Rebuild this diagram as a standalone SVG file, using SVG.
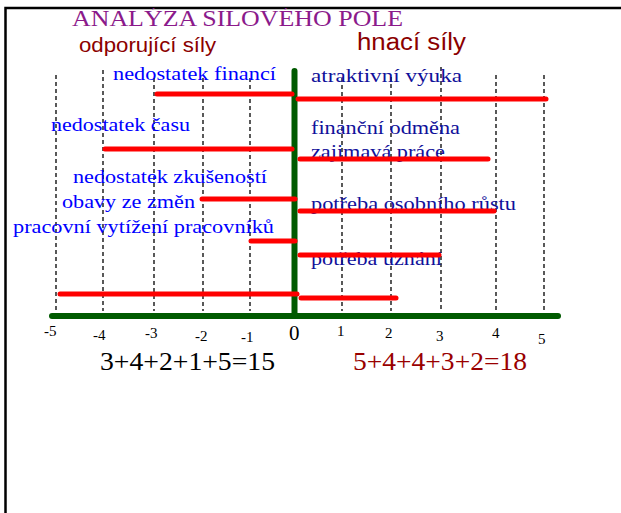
<svg xmlns="http://www.w3.org/2000/svg" width="621" height="513" viewBox="0 0 621 513">
<style>
.serif{font-family:"Liberation Serif","Times New Roman",serif}
.sans{font-family:"Liberation Sans",Arial,sans-serif}
.grid{stroke:#000;stroke-width:1.3;stroke-dasharray:4 3;fill:none}
.bar{stroke:#ff0000;stroke-width:5;stroke-linecap:round;fill:none}
.axis{stroke:#005a00;stroke-width:6;stroke-linecap:round;fill:none}
.lt{fill:#0000ff;font-size:19px}
.rt{fill:#10109a;font-size:19px}
.tick{fill:#000;font-size:15px}
</style>
<defs>
<clipPath id="clipTop"><rect x="0" y="8" width="621" height="505"/></clipPath>
</defs>
<rect x="0" y="0" width="621" height="513" fill="#fff"/>
<g id="frame">
<path d="M5.5 513 V8 H621" stroke="#000" stroke-width="2.5" fill="none"/>
</g>
<g id="title" clip-path="url(#clipTop)">
<text class="serif" x="72" y="26" font-size="24" fill="#8b1a8b" textLength="331" lengthAdjust="spacingAndGlyphs">ANALÝZA SILOVÉHO POLE</text>
</g>
<g id="headers">
<text class="sans" x="79" y="52" font-size="21" fill="#8b0000" textLength="137" lengthAdjust="spacingAndGlyphs">odporující síly</text>
<text class="sans" x="357" y="50" font-size="23" fill="#8b0000" textLength="109" lengthAdjust="spacingAndGlyphs">hnací síly</text>
</g>
<g id="grid">
<line class="grid" x1="56" y1="75" x2="56" y2="311"/>
<line class="grid" x1="103" y1="70" x2="103" y2="311"/>
<line class="grid" x1="154" y1="78" x2="154" y2="311"/>
<line class="grid" x1="203" y1="78" x2="203" y2="311"/>
<line class="grid" x1="250" y1="78" x2="250" y2="311"/>
<line class="grid" x1="342" y1="78" x2="342" y2="311"/>
<line class="grid" x1="391" y1="77" x2="391" y2="311"/>
<line class="grid" x1="441" y1="67" x2="441" y2="311"/>
<line class="grid" x1="496" y1="75" x2="496" y2="311"/>
<line class="grid" x1="544" y1="75" x2="544" y2="311"/>
</g>
<g id="axes">
<line class="axis" x1="294.5" y1="71" x2="294.5" y2="316"/>
<line class="axis" x1="52" y1="316" x2="558" y2="316"/>
</g>
<g id="restraining-forces">
<text class="serif lt" x="113" y="80" textLength="163" lengthAdjust="spacingAndGlyphs">nedostatek financí</text>
<text class="serif lt" x="51" y="131" textLength="139" lengthAdjust="spacingAndGlyphs">nedostatek času</text>
<text class="serif lt" x="73" y="183" textLength="194" lengthAdjust="spacingAndGlyphs">nedostatek zkušeností</text>
<text class="serif lt" x="62" y="208" textLength="133" lengthAdjust="spacingAndGlyphs">obavy ze změn</text>
<text class="serif lt" x="13" y="233" textLength="261" lengthAdjust="spacingAndGlyphs">pracovní vytížení pracovníků</text>
</g>
<g id="driving-forces">
<text class="serif rt" x="311" y="82" textLength="151" lengthAdjust="spacingAndGlyphs">atraktivní  výuka</text>
<text class="serif rt" x="311" y="134" textLength="149" lengthAdjust="spacingAndGlyphs">finanční odměna</text>
<text class="serif rt" x="311" y="158" textLength="134" lengthAdjust="spacingAndGlyphs">zajimavá práce</text>
<text class="serif rt" x="311" y="210" textLength="205" lengthAdjust="spacingAndGlyphs">potřeba osobního růstu</text>
<text class="serif rt" x="311" y="265" textLength="131" lengthAdjust="spacingAndGlyphs">potřeba uznání</text>
</g>
<g id="connectors">
<line class="bar" x1="157" y1="94" x2="292" y2="94"/>
<line class="bar" x1="105" y1="149" x2="292" y2="149"/>
<line class="bar" x1="202" y1="199" x2="295" y2="199"/>
<line class="bar" x1="251" y1="241" x2="295" y2="241"/>
<line class="bar" x1="60" y1="294" x2="297" y2="294"/>
<line class="bar" x1="298" y1="99" x2="546" y2="99"/>
<line class="bar" x1="300" y1="159" x2="488" y2="159"/>
<line class="bar" x1="300" y1="211" x2="494" y2="211"/>
<line class="bar" x1="300" y1="255" x2="439" y2="255"/>
<line class="bar" x1="301" y1="298" x2="396" y2="298"/>
</g>
<g id="ticks">
<text class="serif tick" x="44" y="336">-5</text>
<text class="serif tick" x="93" y="340">-4</text>
<text class="serif tick" x="145" y="338">-3</text>
<text class="serif tick" x="195" y="341">-2</text>
<text class="serif tick" x="241" y="342">-1</text>
<text class="serif" x="289" y="340" font-size="21">0</text>
<text class="serif tick" x="337" y="336">1</text>
<text class="serif tick" x="385" y="338">2</text>
<text class="serif tick" x="436" y="341">3</text>
<text class="serif tick" x="492" y="338">4</text>
<text class="serif tick" x="538" y="344">5</text>
</g>
<g id="sums">
<text class="serif" x="100" y="370" font-size="26" fill="#000" textLength="175" lengthAdjust="spacingAndGlyphs">3+4+2+1+5=15</text>
<text class="serif" x="353" y="370" font-size="26" fill="#990000" textLength="174" lengthAdjust="spacingAndGlyphs">5+4+4+3+2=18</text>
</g>
</svg>
